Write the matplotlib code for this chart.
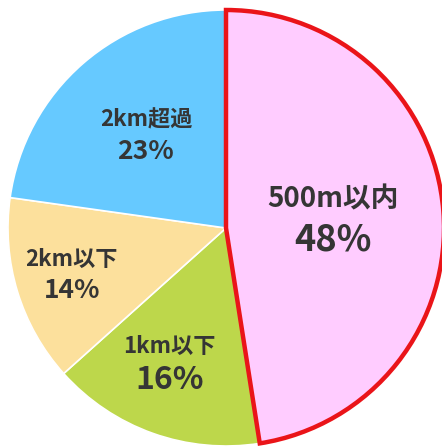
import matplotlib
matplotlib.use("Agg")
import matplotlib.pyplot as plt
import numpy as np

plt.rcParams['font.family'] = ['Noto Sans CJK JP', 'DejaVu Sans']

categories = ["500m以内", "1km以下", "2km以下", "2km超過"]
values = [48, 16, 14, 23]
colors = ["#FFCCFF", "#BDD74B", "#FCE09C", "#66C9FF"]
label_dist = [0.49, 0.67, 0.74, 0.56]
label_rot = [0, -3, 0, 0]
name_size = [20, 16, 16, 16]
pct_size = [26, 23, 19, 19]
line_gap = [29, 24, 23, 23]

W, H = 442, 447
fig = plt.figure(figsize=(W / 100, H / 100), dpi=100)
cx, cy, R = 226, 228, 218
ax = fig.add_axes([(cx - R) / W, (H - cy - R) / H, 2 * R / W, 2 * R / H])

wedges, _ = ax.pie(values, colors=colors, startangle=90, counterclock=False,
                   radius=1.0, wedgeprops=dict(edgecolor="white", linewidth=1.2))
wedges[0].set_edgecolor("#EA1419")
wedges[0].set_linewidth(3.2)
wedges[0].set_zorder(5)
wedges[0].set_clip_on(False)

for i, w in enumerate(wedges):
    ang = np.deg2rad((w.theta1 + w.theta2) / 2 + label_rot[i])
    x, y = label_dist[i] * np.cos(ang), label_dist[i] * np.sin(ang)
    ax.annotate(categories[i], (x, y), xytext=(0, line_gap[i] * 0.5), textcoords="offset points",
                ha="center", va="center", fontsize=name_size[i], color="#353535",
                fontweight="bold", zorder=10)
    ax.annotate(f"{values[i]}%", (x, y), xytext=(0, -line_gap[i] * 0.5), textcoords="offset points",
                ha="center", va="center", fontsize=pct_size[i], color="#353535",
                fontweight="bold", zorder=10)

ax.set_xlim(-1, 1)
ax.set_ylim(-1, 1)
ax.set_aspect("equal")
ax.axis("off")
fig.savefig("out.png", dpi=100)
